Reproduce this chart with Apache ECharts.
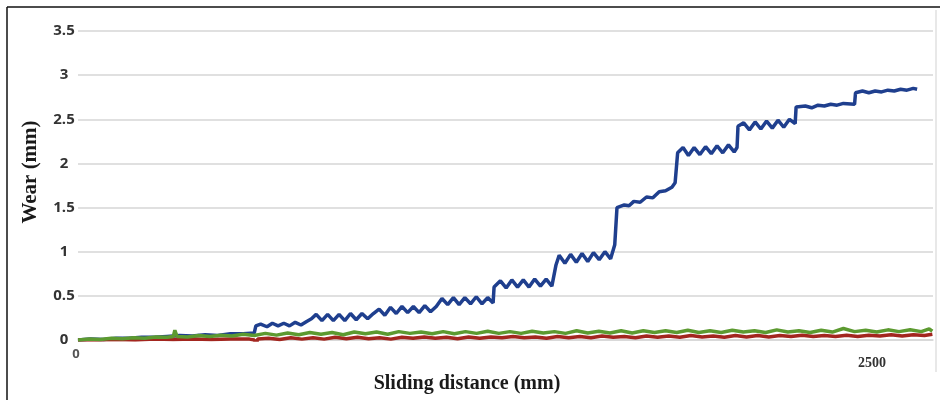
<!DOCTYPE html>
<html>
<head>
<meta charset="utf-8">
<script src="https://cdn.jsdelivr.net/npm/echarts@6/dist/echarts.min.js"></script>
<style>
  html, body { margin: 0; padding: 0; background: #fff; }
  #main { width: 941px; height: 400px; }
</style>
</head>
<body>
<div id="main"></div>
<script>
    // wear data: [sliding distance (mm), wear (mm)]
    var yTicks = [0, 0.5, 1, 1.5, 2, 2.5, 3, 3.5];
    var xTicks = [0, 2500];

    var blueWear = [
        [0,0],[40,0.01],[80,0.005],[120,0.02],[160,0.02],[200,0.03],[240,0.03],[280,0.04],
        [320,0.05],[360,0.045],[400,0.06],[440,0.05],[480,0.07],[520,0.07],[555,0.08],
        [557,0.09],[560,0.16],[575,0.18],[595,0.15],[612,0.19],[630,0.16],[648,0.19],[666,0.16],
        [684,0.2],[702,0.17],[720,0.21],
        [735,0.24],[750,0.29],[768,0.22],[786,0.29],[804,0.22],[822,0.29],[840,0.22],[858,0.3],
        [876,0.23],[894,0.3],[912,0.24],[930,0.3],
        [948,0.35],[966,0.28],[984,0.37],[1002,0.3],[1020,0.38],[1038,0.31],[1056,0.38],
        [1074,0.31],[1092,0.39],[1110,0.32],[1128,0.38],
        [1146,0.47],[1164,0.4],[1182,0.48],[1200,0.4],[1218,0.48],[1236,0.41],[1254,0.49],
        [1272,0.41],[1290,0.48],[1307,0.42],
        [1310,0.6],[1330,0.67],[1348,0.59],[1366,0.68],[1384,0.6],[1402,0.68],[1420,0.6],
        [1438,0.69],[1456,0.61],[1474,0.69],[1492,0.61],
        [1505,0.85],[1515,0.96],[1533,0.87],[1551,0.97],[1569,0.88],[1587,0.98],[1605,0.89],
        [1623,0.99],[1641,0.91],[1659,1.0],[1677,0.92],[1690,1.08],
        [1694,1.1],[1697,1.5],[1720,1.53],[1735,1.52],[1750,1.57],[1770,1.56],[1790,1.62],
        [1810,1.61],[1830,1.68],[1850,1.69],[1870,1.73],[1880,1.78],[1885,1.76],
        [1888,2.12],[1905,2.18],[1922,2.09],[1940,2.18],[1958,2.1],[1976,2.19],[1994,2.11],
        [2012,2.2],[2030,2.12],[2048,2.21],[2066,2.13],[2075,2.18],
        [2078,2.42],[2096,2.46],[2114,2.38],[2132,2.47],[2150,2.39],[2168,2.48],[2186,2.4],
        [2204,2.49],[2222,2.41],[2240,2.5],[2258,2.45],
        [2261,2.64],[2290,2.65],[2310,2.63],[2330,2.66],[2350,2.65],[2370,2.67],[2390,2.66],
        [2410,2.68],[2445,2.67],
        [2448,2.8],[2470,2.82],[2490,2.8],[2510,2.82],[2530,2.81],[2550,2.83],[2570,2.82],
        [2590,2.84],[2610,2.83],[2630,2.85],[2642,2.84]
    ];

    var greenWear = [
        [0,0],[35,0.01],[70,0.005],[105,0.02],[140,0.015],[175,0.025],[210,0.02],[245,0.035],
        [280,0.03],[300,0.04],[305,0.11],[312,0.04],[345,0.035],[380,0.05],[415,0.04],[450,0.055],
        [485,0.045],[520,0.065],[555,0.05],[590,0.075],[625,0.055],[660,0.08],[695,0.06],[730,0.085],
        [765,0.065],[800,0.085],[835,0.06],[870,0.09],[905,0.07],[940,0.09],[975,0.065],[1010,0.095],
        [1045,0.075],[1080,0.09],[1115,0.07],[1150,0.095],[1185,0.07],[1220,0.095],[1255,0.075],
        [1290,0.1],[1325,0.075],[1360,0.095],[1395,0.075],[1430,0.1],[1465,0.08],[1500,0.095],
        [1535,0.075],[1570,0.105],[1605,0.08],[1640,0.1],[1675,0.08],[1710,0.105],[1745,0.08],
        [1780,0.105],[1815,0.085],[1850,0.105],[1885,0.085],[1920,0.11],[1955,0.085],[1990,0.105],
        [2025,0.085],[2060,0.11],[2095,0.09],[2130,0.105],[2165,0.085],[2200,0.115],[2235,0.09],
        [2270,0.105],[2305,0.085],[2340,0.11],[2375,0.09],[2410,0.13],[2445,0.095],[2480,0.11],
        [2515,0.09],[2550,0.115],[2585,0.095],[2620,0.115],[2655,0.095],[2680,0.125],[2690,0.1]
    ];

    var redWear = [
        [0,0],[60,0.0],[120,0.005],[180,0.0],[240,0.01],[300,0.005],[360,0.01],[420,0.005],
        [480,0.01],[540,0.01],[555,0.0],[560,-0.06],[566,0.01],[600,0.02],[635,0.005],[670,0.025],
        [705,0.01],[740,0.025],[775,0.01],[810,0.03],[845,0.015],[880,0.03],[915,0.015],[950,0.025],
        [985,0.01],[1020,0.03],[1055,0.02],[1090,0.035],[1125,0.02],[1160,0.03],[1195,0.015],
        [1230,0.035],[1265,0.02],[1300,0.035],[1335,0.025],[1370,0.04],[1405,0.025],[1440,0.035],
        [1475,0.02],[1510,0.04],[1545,0.025],[1580,0.04],[1615,0.025],[1650,0.045],[1685,0.03],
        [1720,0.04],[1755,0.025],[1790,0.045],[1825,0.03],[1860,0.045],[1895,0.03],[1930,0.05],
        [1965,0.035],[2000,0.045],[2035,0.03],[2070,0.05],[2105,0.035],[2140,0.05],[2175,0.035],
        [2210,0.05],[2245,0.04],[2280,0.055],[2315,0.04],[2350,0.05],[2385,0.04],[2420,0.055],
        [2455,0.04],[2490,0.055],[2525,0.045],[2560,0.06],[2595,0.045],[2630,0.06],[2665,0.05],
        [2690,0.065]
    ];

    var myChart = echarts.init(document.getElementById('main'));
    var option = {
        animation: false,
        backgroundColor: '#fff',
        grid: {left: 78, right: 8, top: 31, bottom: 60},
        xAxis: {
            type: 'value',
            min: 0,
            max: 2692,
            interval: xTicks[1] - xTicks[0],
            splitLine: {show: false},
            axisTick: {show: false},
            axisLine: {lineStyle: {color: '#d6d6d6', width: 1.5}},
            axisLabel: {
                showMaxLabel: false,
                margin: 8,
                formatter: function (v) {
                    if (v === xTicks[0]) return '{a|' + v + '}';
                    if (v === xTicks[1]) return '{b|' + v + '}';
                    return '';
                },
                rich: {
                    a: {fontFamily: 'Open Sans', fontWeight: 'bold', fontSize: 13, color: '#555', padding: [0, 4, 0, 0]},
                    b: {fontFamily: 'Liberation Serif', fontWeight: 'bold', fontSize: 14, color: '#333', padding: [8, 0, 0, 0]}
                }
            }
        },
        yAxis: {
            type: 'value',
            min: yTicks[0],
            max: yTicks[yTicks.length - 1],
            interval: yTicks[1] - yTicks[0],
            axisLine: {show: false},
            axisTick: {show: false},
            splitLine: {lineStyle: {color: '#d6d6d6', width: 1.5}},
            axisLabel: {
                align: 'center',
                margin: 14,
                fontFamily: 'Open Sans',
                fontWeight: 'bold',
                fontSize: 15,
                color: '#333'
            }
        },
        series: [
            {
                type: 'line', data: blueWear, showSymbol: false, smooth: false,
                lineStyle: {color: '#1f3f8e', width: 3.5}
            },
            {
                type: 'line', data: redWear, showSymbol: false, smooth: false,
                lineStyle: {color: '#a3261f', width: 3.5}
            },
            {
                type: 'line', data: greenWear, showSymbol: false, smooth: false,
                lineStyle: {color: '#5c9a30', width: 3.5}
            }
        ],
        graphic: [
            /*外框*/
            {type: 'line', shape: {x1: 7, y1: 7, x2: 940, y2: 7}, style: {stroke: '#111', lineWidth: 1.5}},
            {type: 'line', shape: {x1: 7, y1: 7, x2: 7, y2: 400}, style: {stroke: '#111', lineWidth: 1.5}},
            {type: 'line', shape: {x1: 936, y1: 10, x2: 936, y2: 372}, style: {stroke: '#e0e0e0', lineWidth: 1.5}},
            /*坐标轴标题*/
            {
                type: 'text', x: 467, y: 384,
                style: {text: 'Sliding distance (mm)', font: 'bold 20px "Liberation Serif"', fill: '#1a1a1a', align: 'center', verticalAlign: 'middle'}
            },
            {
                type: 'text', x: 31, y: 172, rotation: Math.PI / 2,
                style: {text: 'Wear (mm)', font: 'bold 21px "Liberation Serif"', fill: '#1a1a1a', align: 'center', verticalAlign: 'middle'}
            }
        ]
    };
    myChart.setOption(option);
</script>
</body>
</html>
